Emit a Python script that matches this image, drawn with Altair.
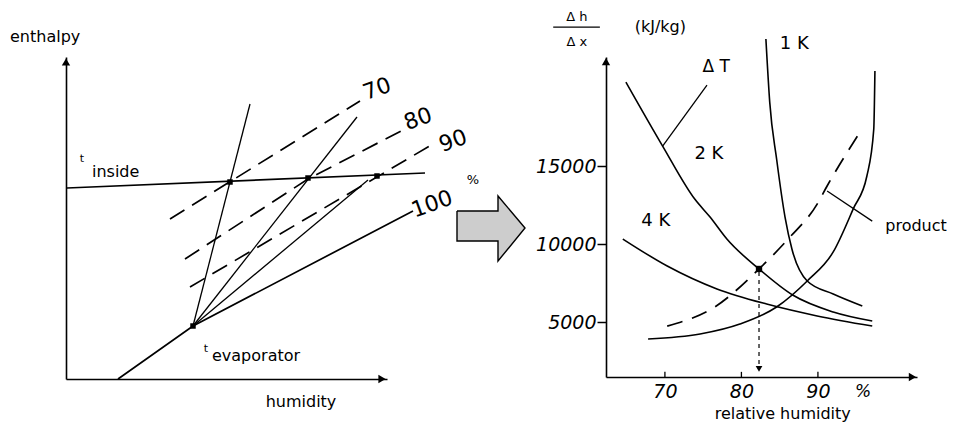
import altair as alt
import pandas as pd

# ---------------- left panel: schematic enthalpy / humidity diagram ----------------
L_W, L_H = 321, 322
inside_x = [1, 359]
inside_y = [191, 206]
sat_x = [52, 127, 347]          # 100 % line
sat_y = [0, 53, 168]
steep_x = [127, 184]
steep_y = [53, 275]
ray80_x = [127, 291]
ray80_y = [53, 262]
ray90_x = [127, 302]
ray90_y = [53, 199]
rh70_x = [104, 294]
rh70_y = [160, 278]
rh80_x = [119, 242, 337]
rh80_y = [120, 200, 249]
rh90_x = [124, 367]
rh90_y = [92, 235]
state_x = [127, 164, 242, 311]
state_y = [53, 197, 201, 203]
rh_labels = ["70", "80", "90", "100"]
rh_label_x = [311, 352, 387, 366]
rh_label_y = [290, 260, 238, 175]
# big arrow between the two diagrams
arrow_body_x = [391]
arrow_body_x2 = [432]
arrow_body_y = [138]
arrow_body_y2 = [168]
arrow_head_x = [432, 459]
arrow_head_lo = [118, 151]
arrow_head_hi = [183, 151]
arrow_out_x = [391, 432, 432, 459, 432, 432, 391, 391]
arrow_out_y = [168, 168, 183, 151, 118, 138, 138, 168]

# ---------------- right panel: dh/dx vs relative humidity ----------------
R_W, R_H = 311, 320
rx_dom = [62.3, 102.95]
ry_dom = [1474, 21990]
k1_x = [83.2, 83.7, 84.6, 85.7, 86.6, 88.6, 92.0, 95.8]
k1_y = [23140, 19100, 15450, 11730, 9680, 7630, 6800, 6030]
k2_x = [64.9, 69.7, 73.9, 75.9, 78.1, 82.3, 86.7, 92.0, 97.1]
k2_y = [20380, 16280, 12880, 11730, 10320, 8400, 6730, 5640, 5060]
k4_x = [64.5, 70.3, 76.8, 83.3, 89.9, 97.1]
k4_y = [10320, 8590, 7120, 6150, 5390, 4740]
rise_x = [67.8, 74.6, 79.8, 84.6, 88.6, 92.0, 94.6, 96.4, 97.3, 97.45]
rise_y = [3910, 4230, 4870, 5960, 7630, 9490, 12240, 14360, 17370, 21090]
prod_x = [70.3, 76.5, 82.3, 86.1, 89.9, 91.2, 95.5]
prod_y = [4740, 5960, 8400, 10320, 12560, 13720, 17180]
op_x = [82.3]
op_y = [8400]
x_ticks = [70, 80, 90]
y_ticks = [5000, 10000, 15000]

FONT = "DejaVu Sans"


def segs(items):
    rows = []
    for name, xs, ys in items:
        for i, (a, b) in enumerate(zip(xs, ys)):
            rows.append({"id": name, "i": i, "x": a, "y": b})
    return pd.DataFrame(rows)


# ---------- left encodings ----------
l_axis = alt.Axis(domain=True, domainColor="black", domainWidth=1.6, ticks=False,
                  labels=False, grid=False)


def LX(f="x"):
    return alt.X(f"{f}:Q", scale=alt.Scale(domain=[0, L_W], nice=False, zero=False),
                 axis=l_axis, title=None)


def LY(f="y"):
    return alt.Y(f"{f}:Q", scale=alt.Scale(domain=[0, L_H], nice=False, zero=False),
                 axis=l_axis, title=None, stack=None)


def text_layer(enc_x, enc_y, xs, ys, texts, sizes, align, style="normal"):
    df = pd.DataFrame({"x": xs, "y": ys, "t": texts, "s": sizes})
    return alt.Chart(df).mark_text(font=FONT, color="black", align=align,
                                   fontStyle=style).encode(
        x=enc_x(), y=enc_y(), text="t:N", size=alt.Size("s:Q", scale=None))


solid_thin = segs([("steep", steep_x, steep_y), ("r80", ray80_x, ray80_y),
                   ("r90", ray90_x, ray90_y)])
solid_thick = segs([("inside", inside_x, inside_y), ("sat", sat_x, sat_y)])
dashed = segs([("d70", rh70_x, rh70_y), ("d80", rh80_x, rh80_y), ("d90", rh90_x, rh90_y)])

l_thin = alt.Chart(solid_thin).mark_line(color="black", strokeWidth=1.3).encode(
    x=LX(), y=LY(), detail="id:N", order="i:Q")
l_thick = alt.Chart(solid_thick).mark_line(color="black", strokeWidth=1.7).encode(
    x=LX(), y=LY(), detail="id:N", order="i:Q")
l_dash = alt.Chart(dashed).mark_line(color="black", strokeWidth=1.7, strokeDash=[17, 9]).encode(
    x=LX(), y=LY(), detail="id:N", order="i:Q")
l_pts = alt.Chart(pd.DataFrame({"x": state_x, "y": state_y})).mark_point(
    shape="square", filled=True, color="black", size=30, opacity=1).encode(x=LX(), y=LY())

l_heads = alt.Chart(pd.DataFrame({"x": [0, L_W - 5], "y": [L_H - 5, 0],
                                  "s": ["triangle-up", "triangle-right"]})).mark_point(
    filled=True, color="black", size=70, opacity=1).encode(
    x=LX(), y=LY(), shape=alt.Shape("s:N", scale=None))

l_rh_text = alt.Chart(pd.DataFrame({"x": rh_label_x, "y": rh_label_y, "t": rh_labels})).mark_text(
    font=FONT, fontSize=22, angle=340, color="black").encode(x=LX(), y=LY(), text="t:N")

l_text_left = text_layer(LX, LY, [-56, 26, 146], [342, 207, 23],
                         ["enthalpy", "inside", "evaporator"], [16, 16, 16], "left")
l_text_center = text_layer(LX, LY, [235, 16, 140, 407], [-23, 220, 30, 199],
                           ["humidity", "t", "t", "%"], [16, 11, 11, 13], "center")

arrow_body = alt.Chart(pd.DataFrame({"x": arrow_body_x, "x2": arrow_body_x2,
                                     "y": arrow_body_y, "y2": arrow_body_y2})).mark_rect(
    color="#cdcdcd", opacity=1).encode(x=LX(), x2="x2:Q", y=LY(), y2="y2:Q")
arrow_head = alt.Chart(pd.DataFrame({"x": arrow_head_x, "lo": arrow_head_lo,
                                     "hi": arrow_head_hi})).mark_area(
    color="#cdcdcd", opacity=1).encode(x=LX(), y=LY("lo"), y2="hi:Q")
arrow_line = alt.Chart(pd.DataFrame({"x": arrow_out_x, "y": arrow_out_y,
                                     "i": list(range(8))})).mark_line(
    color="black", strokeWidth=1.4).encode(x=LX(), y=LY(), order="i:Q")

left = alt.layer(l_thin, l_thick, l_dash, l_pts, l_heads, l_rh_text, l_text_left,
                 l_text_center, arrow_body, arrow_head, arrow_line).properties(
    width=L_W, height=L_H)

# ---------- right encodings ----------
rx_axis = alt.Axis(values=x_ticks, ticks=False, grid=False, domainColor="black",
                   domainWidth=1.6, labelFont=FONT, labelFontSize=19, labelFontStyle="italic",
                   labelColor="black", labelPadding=5, format="d")
ry_axis = alt.Axis(values=y_ticks, tickSize=9, tickColor="black", tickWidth=1.5, grid=False,
                   domainColor="black", domainWidth=1.6, labelFont=FONT, labelFontSize=19,
                   labelFontStyle="italic", labelColor="black", labelPadding=1, format="d")


def RX(f="x"):
    return alt.X(f"{f}:Q", scale=alt.Scale(domain=rx_dom, nice=False, zero=False),
                 axis=rx_axis, title=None)


def RY(f="y"):
    return alt.Y(f"{f}:Q", scale=alt.Scale(domain=ry_dom, nice=False, zero=False),
                 axis=ry_axis, title=None, stack=None)


curves = segs([("1K", k1_x, k1_y), ("2K", k2_x, k2_y), ("4K", k4_x, k4_y),
               ("rise", rise_x, rise_y)])
r_curves = alt.Chart(curves).mark_line(color="black", strokeWidth=1.6,
                                       interpolate="monotone").encode(
    x=RX(), y=RY(), detail="id:N", order="i:Q")
r_prod = alt.Chart(segs([("prod", prod_x, prod_y)])).mark_line(
    color="black", strokeWidth=1.7, strokeDash=[16, 10], interpolate="monotone").encode(
    x=RX(), y=RY(), detail="id:N", order="i:Q")
r_op = alt.Chart(pd.DataFrame({"x": op_x, "y": op_y})).mark_point(
    shape="square", filled=True, color="black", size=40, opacity=1).encode(x=RX(), y=RY())

lead_df = pd.DataFrame({"x": [75.5, 91.2, 55.4], "x2": [69.7, 97.1, 61.5],
                        "y": [20190, 13400, 23910], "y2": [16280, 11470, 23910]})
r_lead = alt.Chart(lead_df).mark_rule(color="black", strokeWidth=1.3).encode(
    x=RX(), x2="x2:Q", y=RY(), y2="y2:Q")
drop_df = pd.DataFrame({"x": op_x, "y": [8200], "y2": [2300]})
r_drop = alt.Chart(drop_df).mark_rule(
    color="black", strokeWidth=1.2, strokeDash=[4, 4]).encode(x=RX(), y=RY(), y2="y2:Q")

r_ticks = alt.Chart(pd.DataFrame({"x": x_ticks, "y": [ry_dom[0]] * 3,
                                  "y2": [ry_dom[0] + 330] * 3})).mark_rule(
    color="black", strokeWidth=1.3).encode(x=RX(), y=RY(), y2="y2:Q")

r_heads = alt.Chart(pd.DataFrame({"x": [rx_dom[0], rx_dom[1] - 0.6, 82.3],
                                  "y": [21700, ry_dom[0], 2000],
                                  "s": ["triangle-up", "triangle-right", "triangle-down"],
                                  "z": [70, 70, 45]})).mark_point(
    filled=True, color="black", opacity=1).encode(
    x=RX(), y=RY(), shape=alt.Shape("s:N", scale=None), size=alt.Size("z:Q", scale=None))

r_text_c = text_layer(RX, RY,
                      [58.5, 58.5, 69.4, 76.7, 86.9, 75.75, 68.8, 85.4],
                      [24550, 22950, 23910, 21350, 22820, 15770, 11470, -900],
                      ["Δ h", "Δ x", "(kJ/kg)", "Δ T", "1 K", "2 K", "4 K", "relative humidity"],
                      [13, 13, 16, 17, 18, 18, 18, 16], "center")
r_text_l = text_layer(RX, RY, [98.8], [11150], ["product"], [16], "left")
r_text_i = text_layer(RX, RY, [95.9], [520], ["%"], [17], "center", "italic")

right = alt.layer(r_curves, r_prod, r_op, r_lead, r_drop, r_ticks, r_heads,
                  r_text_c, r_text_l, r_text_i).properties(width=R_W, height=R_H)

chart = alt.hconcat(left, right, spacing=219, bounds="flush").properties(
    padding={"left": 2, "top": 3, "right": 0, "bottom": 2},
    background="white",
).configure_view(stroke=None)

chart.save("out.html", embed_options={"renderer": "svg", "actions": False})
